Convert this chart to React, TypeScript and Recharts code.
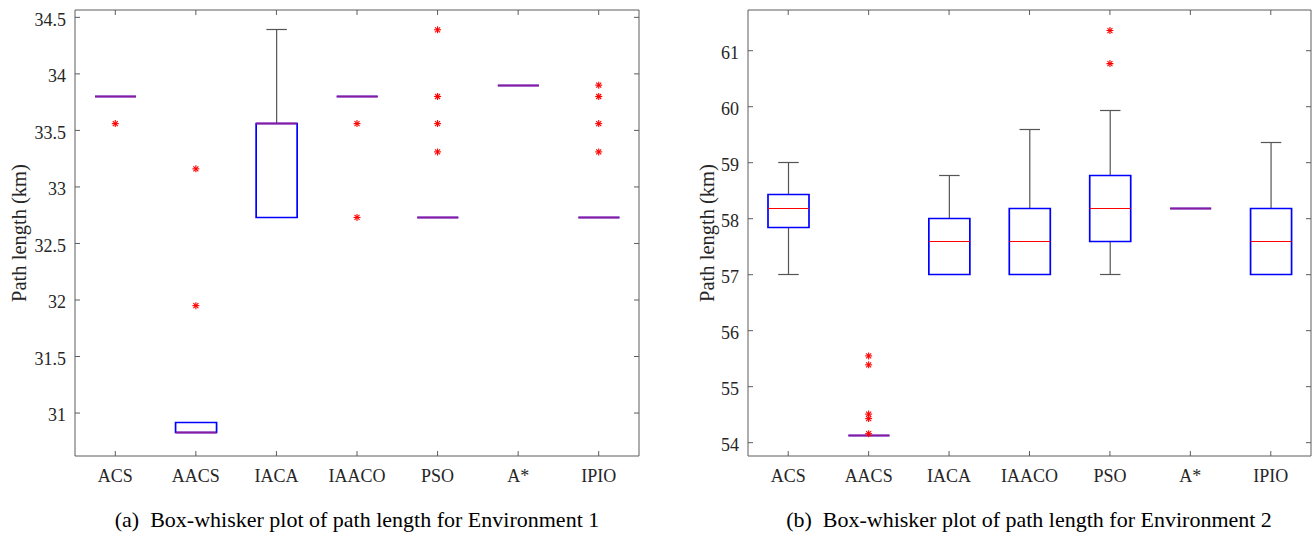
import React from 'react';
import { ComposedChart, Bar, Scatter, XAxis, YAxis } from 'recharts';

const categories = ['ACS', 'AACS', 'IACA', 'IAACO', 'PSO', 'A*', 'IPIO'];

// Environment 1 (km)
const env1Low = [33.8, 30.826, 32.73, 33.8, 32.73, 33.9, 32.73];
const env1Q1 = [33.8, 30.826, 32.73, 33.8, 32.73, 33.9, 32.73];
const env1Median = [33.8, 30.826, 33.56, 33.8, 32.73, 33.9, 32.73];
const env1Q3 = [33.8, 30.918, 33.56, 33.8, 32.73, 33.9, 32.73];
const env1High = [33.8, 30.918, 34.39, 33.8, 32.73, 33.9, 32.73];
const env1Outliers = [
  [33.56],
  [33.16, 31.95],
  [],
  [33.56, 32.73],
  [34.39, 33.8, 33.56, 33.31],
  [],
  [33.9, 33.8, 33.56, 33.31],
];
const env1Ticks = [31, 31.5, 32, 32.5, 33, 33.5, 34, 34.5];
const env1Domain = [30.62, 34.565];

// Environment 2 (km)
const env2Low = [57.01, 54.12, 57.01, 57.01, 57.01, 58.19, 57.01];
const env2Q1 = [57.84, 54.12, 57.01, 57.01, 57.6, 58.19, 57.01];
const env2Median = [58.19, 54.12, 57.6, 57.6, 58.19, 58.19, 57.6];
const env2Q3 = [58.43, 54.12, 58.0, 58.19, 58.77, 58.19, 58.19];
const env2High = [59.01, 54.12, 58.77, 59.6, 59.94, 58.19, 59.36];
const env2Outliers = [
  [],
  [55.55, 55.39, 54.51, 54.43, 54.16],
  [],
  [],
  [61.36, 60.77],
  [],
  [],
];
const env2Ticks = [54, 55, 56, 57, 58, 59, 60, 61];
const env2Domain = [53.762, 61.727];

const yLabel = 'Path length (km)';
const captionA = '(a)  Box-whisker plot of path length for Environment 1';
const captionB = '(b)  Box-whisker plot of path length for Environment 2';

const MAX_OUT = 5;
const FONT = '"Liberation Serif", "Times New Roman", serif';
const AXIS = '#5c5c5c';
const TEXT = '#262626';

function buildRows(low: number[], q1: number[], med: number[], q3: number[], high: number[], outliers: number[][]) {
  return categories.map((name, i) => {
    const row: any = {
      name,
      range: [low[i], high[i]],
      low: low[i],
      q1: q1[i],
      median: med[i],
      q3: q3[i],
      high: high[i],
    };
    for (let k = 0; k < MAX_OUT; k++) row['o' + k] = outliers[i][k];
    return row;
  });
}

const rows1 = buildRows(env1Low, env1Q1, env1Median, env1Q3, env1High, env1Outliers);
const rows2 = buildRows(env2Low, env2Q1, env2Median, env2Q3, env2High, env2Outliers);

const snap = (v: number) => Math.round(v - 0.5) + 0.5;

const BoxShape = (props: any) => {
  const { x, y, width, height, payload } = props;
  if (x == null || y == null || !isFinite(y) || !payload) return null;
  const { low, high, q1, q3, median } = payload;
  const span = high - low;
  const toY = (v: number) => snap(span > 0 ? y + ((high - v) / span) * height : y);
  const cx = x + width / 2;
  const cap = width / 4;
  const yLow = toY(low);
  const yHigh = toY(high);
  const yQ1 = toY(q1);
  const yQ3 = toY(q3);
  const yMed = toY(median);
  const onEdge = Math.abs(yMed - yQ1) < 1 || Math.abs(yMed - yQ3) < 1;
  const boxPath = `M${x},${yQ3} H${x + width} V${yQ1} H${x} Z`;
  return (
    <g>
      {yHigh < yQ3 - 0.5 && (
        <g stroke="#555555" strokeWidth={1.2}>
          <line x1={cx} x2={cx} y1={yQ3} y2={yHigh} />
          <line x1={cx - cap} x2={cx + cap} y1={yHigh} y2={yHigh} />
        </g>
      )}
      {yLow > yQ1 + 0.5 && (
        <g stroke="#555555" strokeWidth={1.2}>
          <line x1={cx} x2={cx} y1={yQ1} y2={yLow} />
          <line x1={cx - cap} x2={cx + cap} y1={yLow} y2={yLow} />
        </g>
      )}
      <path d={boxPath} fill="none" stroke="#0000ff" strokeWidth={1.7} />
      <line
        x1={x}
        x2={x + width}
        y1={yMed}
        y2={yMed}
        stroke={onEdge ? '#8a1a9e' : '#ff0000'}
        strokeWidth={onEdge ? 1.8 : 1}
      />
    </g>
  );
};

const StarShape = (props: any) => {
  const { cx, cy } = props;
  if (cx == null || cy == null || !isFinite(cx) || !isFinite(cy)) return null;
  const r = 3.5;
  const d = 2.5;
  return (
    <g stroke="#ff0000" strokeWidth={1.1}>
      <line x1={cx - r} x2={cx + r} y1={cy} y2={cy} />
      <line x1={cx} x2={cx} y1={cy - r} y2={cy + r} />
      <line x1={cx - d} x2={cx + d} y1={cy - d} y2={cy + d} />
      <line x1={cx - d} x2={cx + d} y1={cy + d} y2={cy - d} />
    </g>
  );
};

const tickStyle = { fontSize: 18, fontFamily: FONT, fill: TEXT };

function Panel({ rows, ticks, domain, left, width }: any) {
  return (
    <div style={{ position: 'absolute', left, top: 0, width, height: 542 }}>
      <ComposedChart
        width={width}
        height={542}
        data={rows}
        margin={{ top: 9, right: 0, bottom: 46, left: 0 }}
      >
        <XAxis
          xAxisId="b"
          dataKey="name"
          orientation="bottom"
          height={40}
          interval={0}
          tickSize={-5}
          tickMargin={18}
          stroke={AXIS}
          tick={tickStyle}
        />
        <XAxis
          xAxisId="t"
          dataKey="name"
          orientation="top"
          height={1}
          interval={0}
          tickSize={-5}
          stroke={AXIS}
          tickFormatter={() => ''}
        />
        <YAxis
          yAxisId="l"
          type="number"
          domain={domain}
          ticks={ticks}
          allowDataOverflow
          interval={0}
          width={75}
          tickSize={-5}
          tickMargin={14}
          stroke={AXIS}
          tick={{ ...tickStyle, dy: 2 }}
        />
        <YAxis
          yAxisId="r"
          orientation="right"
          type="number"
          domain={domain}
          ticks={ticks}
          allowDataOverflow
          interval={0}
          width={4}
          tickSize={-5}
          stroke={AXIS}
          tickFormatter={() => ''}
        />
        <Bar
          xAxisId="b"
          yAxisId="l"
          dataKey="range"
          barSize={41}
          shape={(p: any) => <BoxShape {...p} />}
          isAnimationActive={false}
        />
        {Array.from({ length: MAX_OUT }, (_, k) => (
          <Scatter
            key={k}
            xAxisId="b"
            yAxisId="l"
            dataKey={'o' + k}
            shape={(p: any) => <StarShape {...p} />}
            isAnimationActive={false}
          />
        ))}
      </ComposedChart>
    </div>
  );
}

export default function App() {
  return (
    <div style={{ position: 'absolute', left: 0, top: 0, width: 1315, height: 542, background: '#fff' }}>
      <Panel rows={rows1} ticks={env1Ticks} domain={env1Domain} left={0} width={643} />
      <Panel rows={rows2} ticks={env2Ticks} domain={env2Domain} left={673} width={642} />
      <svg
        width={1315}
        height={542}
        style={{ position: 'absolute', left: 0, top: 0, pointerEvents: 'none', fontFamily: FONT }}
      >
        <g style={{ fontFamily: FONT, fontSize: 20.5 }} fill={TEXT}>
          <text transform="translate(19,233) rotate(-90)" textAnchor="middle" dominantBaseline="central">
            {yLabel}
          </text>
          <text transform="translate(707,233) rotate(-90)" textAnchor="middle" dominantBaseline="central">
            {yLabel}
          </text>
        </g>
        <g style={{ fontFamily: FONT, fontSize: 22, whiteSpace: 'pre' }} fill="#000">
          <text x={357} y={527} textAnchor="middle" xmlSpace="preserve">{captionA}</text>
          <text x={1029} y={527} textAnchor="middle" xmlSpace="preserve">{captionB}</text>
        </g>
      </svg>
    </div>
  );
}
